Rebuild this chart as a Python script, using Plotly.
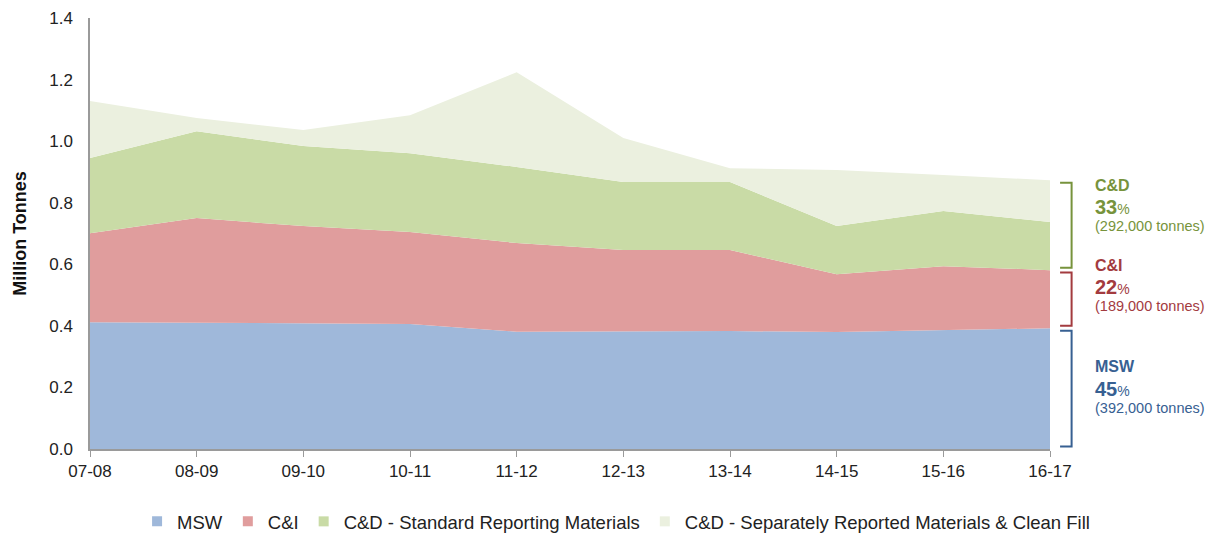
import plotly.graph_objects as go

years = ["07-08", "08-09", "09-10", "10-11", "11-12", "12-13", "13-14", "14-15", "15-16", "16-17"]
msw = [0.412, 0.410, 0.409, 0.406, 0.381, 0.381, 0.383, 0.380, 0.386, 0.392]
cni = [0.289, 0.340, 0.315, 0.299, 0.288, 0.265, 0.263, 0.188, 0.208, 0.189]
cnd_std = [0.244, 0.282, 0.260, 0.256, 0.247, 0.221, 0.221, 0.156, 0.179, 0.156]
cnd_sep = [0.185, 0.043, 0.052, 0.123, 0.308, 0.143, 0.045, 0.182, 0.117, 0.136]

series_names = ["MSW", "C&I", "C&D - Standard Reporting Materials",
                "C&D - Separately Reported Materials & Clean Fill"]
fill_colors = ["#9fb8da", "#e09d9d", "#c9dba6", "#ebf0df"]

# right-hand summary labels (latest year)
sum_labels = ["MSW", "C&I", "C&D"]
sum_pct = [45, 22, 33]
sum_tonnes = ["392,000", "189,000", "292,000"]
sum_colors = ["#376092", "#a33b3f", "#77933c"]

font_family = "Liberation Sans, Arial, sans-serif"

fig = go.Figure()
for name, vals, col in zip(series_names, [msw, cni, cnd_std, cnd_sep], fill_colors):
    fig.add_trace(go.Scatter(
        x=years, y=vals, name=name, mode="lines", stackgroup="one",
        line=dict(width=0, color=col), fillcolor=col, showlegend=False,
    ))
# legend entries with small square keys
for name, col in zip(series_names, fill_colors):
    fig.add_trace(go.Scatter(
        x=[None], y=[None], name=name, mode="markers",
        marker=dict(symbol="square", size=10, color=col), showlegend=True,
    ))

# bracket ranges derived from the final-year stack
last = len(years) - 1
b_msw = (0.0, msw[last])
b_cni = (msw[last], msw[last] + cni[last])
b_cnd = (msw[last] + cni[last], msw[last] + cni[last] + cnd_std[last] + cnd_sep[last])
brackets = [b_msw, b_cni, b_cnd]

x0b, x1b = 1.0105, 1.0225
gap = 0.008
for (lo, hi), col in zip(brackets, sum_colors):
    lo2, hi2 = lo + gap, hi - gap
    fig.add_shape(type="path", xref="paper", yref="y",
                  path=f"M {x0b},{lo2} L {x1b},{lo2} L {x1b},{hi2} L {x0b},{hi2}",
                  line=dict(color=col, width=2))

xt = 1.045
label_y = [0.267, 0.597, 0.857]
for ly, lab, pct, ton, col in zip(label_y, sum_labels, sum_pct, sum_tonnes, sum_colors):
    fig.add_annotation(xref="paper", yref="y", x=xt, y=ly, xanchor="left", yanchor="middle",
                       text=f"<b>{lab}</b>", showarrow=False,
                       font=dict(family=font_family, size=16, color=col))
    fig.add_annotation(xref="paper", yref="y", x=xt, y=ly - 0.071, xanchor="left", yanchor="middle",
                       text=f"<b>{pct}</b><span style='font-size:14px'>%</span>", showarrow=False,
                       font=dict(family=font_family, size=20, color=col))
    fig.add_annotation(xref="paper", yref="y", x=xt, y=ly - 0.133, xanchor="left", yanchor="middle",
                       text=f"({ton} tonnes)", showarrow=False,
                       font=dict(family=font_family, size=14.5, color=col))

fig.update_layout(
    width=1207, height=530,
    margin=dict(l=82, r=165, t=10, b=89, autoexpand=False),
    paper_bgcolor="white", plot_bgcolor="white",
    font=dict(family=font_family, size=17, color="#222222"),
    showlegend=True,
    legend=dict(orientation="h", x=0.548, xanchor="center", y=-0.169, yanchor="middle",
                font=dict(size=18.5, color="#222222"), itemwidth=30, traceorder="normal"),
    xaxis=dict(type="category", range=[0, len(years) - 1], showgrid=False,
               showline=True, linecolor="#9a9a9a", linewidth=1.5,
               ticks="outside", ticklen=6, tickcolor="#9a9a9a",
               tickfont=dict(size=17, color="#222222"), automargin=False),
    yaxis=dict(range=[0, 1.4], dtick=0.2, tickformat=".1f", showgrid=False,
               showline=True, linecolor="#9a9a9a", linewidth=1.5, ticks="",
               ticklabelstandoff=12,
               zeroline=False, tickfont=dict(size=17, color="#222222"), automargin=False,
               title=dict(text="<b>Million Tonnes</b>", font=dict(size=18, color="#111111"),
                          standoff=18)),
)

fig.write_html("out.html")
